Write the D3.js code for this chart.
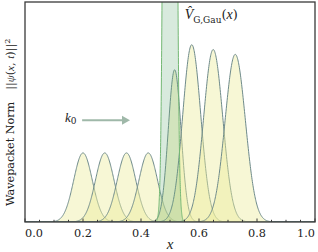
<!DOCTYPE html>
<html>
<head>
<meta charset="utf-8">
<script src="https://cdn.jsdelivr.net/npm/d3@7"></script>
<style>
  html, body { margin: 0; padding: 0; background: #fff; }
  svg { display: block; font-family: "DejaVu Serif", serif; }
  .math { font-family: "Liberation Serif", serif; font-style: italic; }
</style>
</head>
<body>
<div id="chart"></div>
<script>
// Wavepacket snapshots (gaussian parameters)
const centers = [0.2, 0.275, 0.35, 0.425, 0.516, 0.575, 0.649, 0.725];
const heights = [0.314, 0.314, 0.314, 0.314, 0.692, 0.806, 0.784, 0.762];
const sigmas  = [0.032, 0.032, 0.032, 0.032, 0.022, 0.031, 0.033, 0.035];

// Gaussian barrier V_G,Gau (top runs far off the axes)
const barrierCenter = 0.5;
const barrierHeight = 17;
const barrierSigma = 0.0116;

const xMajor = [0, 0.2, 0.4, 0.6, 0.8, 1.0];
const xMinor = [0.05, 0.1, 0.15, 0.25, 0.3, 0.35, 0.45, 0.5, 0.55, 0.65, 0.7, 0.75, 0.85, 0.9, 0.95];

// annotation positions in data units
const arrowFrom = [0.197, 0.462];
const arrowTo = [0.362, 0.462];
const k0Pos = [0.138, 0.455];
const vLabelPos = [0.551, 0.924];

(function () {
  'use strict';

  const W = 318, H = 252;
  const margin = { top: 2, right: 3, bottom: 30, left: 25 };

  const svg = d3.select('#chart').append('svg')
    .attr('width', W).attr('height', H);

  const x = d3.scaleLinear().domain([0, 1]).range([margin.left, W - margin.right]);
  const y = d3.scaleLinear().domain([0, 1]).range([H - margin.bottom, margin.top]);

  svg.append('clipPath').attr('id', 'plot-clip')
    .append('rect')
    .attr('x', x(0)).attr('y', y(1))
    .attr('width', x(1) - x(0)).attr('height', y(0) - y(1));

  const plot = svg.append('g').attr('clip-path', 'url(#plot-clip)');

  const gauss = (xv, c, h, s) => h * Math.exp(-((xv - c) * (xv - c)) / (2 * s * s));
  const grid = d3.range(0, 1.0005, 0.001);

  const area = d3.area()
    .x(d => x(d[0]))
    .y0(y(0))
    .y1(d => y(d[1]));
  const line = d3.line()
    .x(d => x(d[0]))
    .y(d => y(d[1]));

  // wavepackets
  centers.forEach((c, i) => {
    const pts = grid.map(xv => [xv, gauss(xv, c, heights[i], sigmas[i])]);
    plot.append('path').datum(pts)
      .attr('d', area)
      .attr('fill', '#eded9a').attr('fill-opacity', 0.42);
    plot.append('path').datum(pts)
      .attr('d', line)
      .attr('fill', 'none')
      .attr('stroke', '#6f8b8b').attr('stroke-width', 1);
  });

  // barrier
  const bGrid = d3.range(barrierCenter - 0.08, barrierCenter + 0.08, 0.0002);
  const bPts = bGrid.map(xv => [xv, gauss(xv, barrierCenter, barrierHeight, barrierSigma)]);
  plot.append('path').datum(bPts)
    .attr('d', area)
    .attr('fill', '#64aa78').attr('fill-opacity', 0.25);
  plot.append('path').datum(bPts.filter(d => d[1] > 0.004))
    .attr('d', line)
    .attr('fill', 'none')
    .attr('stroke', '#74b874').attr('stroke-width', 1);

  // arrow k0
  const ax1 = x(arrowFrom[0]), ay = y(arrowFrom[1]), ax2 = x(arrowTo[0]);
  svg.append('line')
    .attr('x1', ax1).attr('y1', ay)
    .attr('x2', ax2 - 6).attr('y2', ay)
    .attr('stroke', '#9fb8a9').attr('stroke-width', 2);
  svg.append('polygon')
    .attr('points', `${ax2},${ay} ${ax2 - 8},${ay - 4.5} ${ax2 - 8},${ay + 4.5}`)
    .attr('fill', '#9fb8a9');

  const k0 = svg.append('text')
    .attr('x', x(k0Pos[0])).attr('y', y(k0Pos[1]))
    .attr('font-size', 13).attr('fill', '#222');
  k0.append('tspan').attr('class', 'math').text('k');
  k0.append('tspan').attr('font-size', 9).attr('dy', 2.5).text('0');

  const vl = svg.append('text')
    .attr('x', x(vLabelPos[0])).attr('y', y(vLabelPos[1]))
    .attr('font-size', 14).attr('fill', '#222');
  vl.append('tspan').attr('class', 'math').text('V\u0302');
  vl.append('tspan').attr('font-size', 9).attr('dy', 4).text('G,Gau');
  vl.append('tspan').attr('dy', -4).attr('font-size', 13).text('(');
  vl.append('tspan').attr('class', 'math').text('x');
  vl.append('tspan').attr('font-size', 13).text(')');

  // frame
  svg.append('rect')
    .attr('x', x(0)).attr('y', y(1))
    .attr('width', x(1) - x(0)).attr('height', y(0) - y(1))
    .attr('fill', 'none').attr('stroke', '#3a3a3a').attr('stroke-width', 1.3);

  // inward ticks
  const tickG = svg.append('g').attr('stroke', '#3a3a3a').attr('stroke-width', 1);
  xMinor.forEach(t => {
    tickG.append('line')
      .attr('x1', x(t)).attr('x2', x(t))
      .attr('y1', y(0)).attr('y2', y(0) - 2.2);
  });
  xMajor.forEach(t => {
    tickG.append('line')
      .attr('x1', x(t)).attr('x2', x(t))
      .attr('y1', y(0)).attr('y2', y(0) - 3.5);
  });

  // tick labels (end labels pulled inside the frame)
  xMajor.forEach((t, i) => {
    const anchor = i === 0 ? 'start' : (i === xMajor.length - 1 ? 'end' : 'middle');
    svg.append('text')
      .attr('x', x(t)).attr('y', 237)
      .attr('text-anchor', anchor)
      .attr('font-size', 11.3).attr('fill', '#222')
      .text(d3.format('.1f')(t));
  });

  // axis labels
  svg.append('text')
    .attr('class', 'math')
    .attr('x', (x(0) + x(1)) / 2).attr('y', 249)
    .attr('text-anchor', 'middle')
    .attr('font-size', 15).attr('fill', '#222')
    .text('x');

  const yl = svg.append('text')
    .attr('transform', `translate(14,206) rotate(-90)`)
    .attr('font-size', 11.2).attr('fill', '#222');
  yl.append('tspan').text('Wavepacket Norm');
  yl.append('tspan').attr('dx', 12).text('||');
  yl.append('tspan').attr('class', 'math').text('ψ');
  yl.append('tspan').text('(');
  yl.append('tspan').attr('class', 'math').text('x');
  yl.append('tspan').text(', ');
  yl.append('tspan').attr('class', 'math').text('t');
  yl.append('tspan').text(')||');
  yl.append('tspan').attr('font-size', 8).attr('dy', -4).text('2');
})();
</script>
</body>
</html>
